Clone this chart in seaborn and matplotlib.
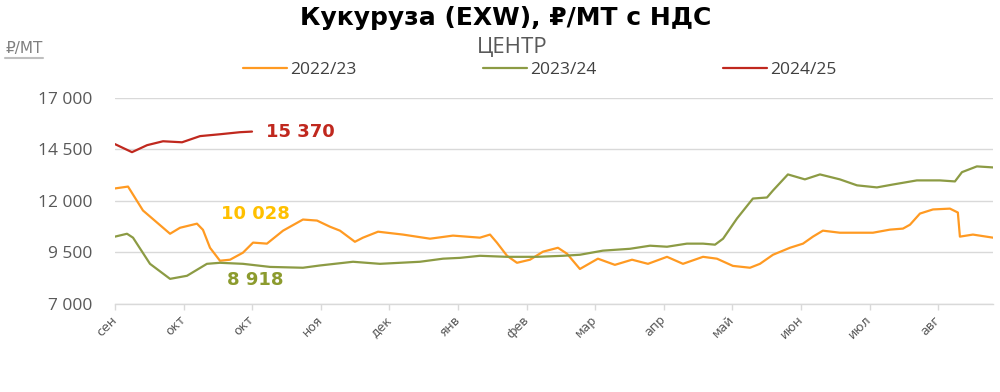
import numpy as np
import pandas as pd
import matplotlib
matplotlib.use("Agg")
import matplotlib.pyplot as plt
import seaborn as sns
from matplotlib.lines import Line2D

# ---- data (weeks from start of season, price RUB/t incl. VAT) ----
weeks_2223 = [0.0, 0.76, 1.63, 3.21, 3.79, 4.78, 5.13, 5.54, 6.12, 6.71, 7.46, 8.05, 8.86, 9.80,
              10.96, 11.78, 12.54, 13.12, 13.99, 14.46, 15.34, 16.79, 18.37, 19.71, 21.28, 21.87,
              22.27, 22.86, 23.44, 24.20, 24.96, 25.83, 26.36, 27.11, 28.16, 29.15, 30.15, 31.08,
              32.19, 33.12, 34.29, 35.10, 36.03, 37.03, 37.61, 38.37, 39.36, 40.12, 40.70, 41.28,
              42.27, 44.20, 45.19, 45.95, 46.36, 46.94, 47.70, 48.69, 49.15, 49.27, 50.03, 51.20]
price_2223 = [12610, 12700, 11540, 10410, 10700, 10900, 10600, 9730, 9100, 9150, 9490, 9980, 9930, 10560,
              11100, 11050, 10750, 10560, 10020, 10220, 10510, 10370, 10170, 10320, 10220, 10370,
              9980, 9340, 9000, 9150, 9540, 9730, 9440, 8700, 9200, 8900, 9150, 8950,
              9290, 8950, 9290, 9200, 8850, 8760, 8950, 9390, 9730, 9930, 10270, 10560,
              10460, 10460, 10610, 10660, 10850, 11390, 11590, 11630, 11440, 10270, 10370, 10220]

weeks_2324 = [0.0, 0.70, 1.05, 2.04, 3.21, 4.20, 5.36, 6.12, 7.46, 9.04, 10.96, 11.95, 13.88, 15.45,
              17.78, 19.13, 20.12, 21.28, 22.86, 24.61, 26.12, 27.11, 28.45, 30.03, 31.20, 32.19,
              33.35, 34.29, 34.99, 35.46, 36.27, 37.20, 38.02, 38.37, 39.24, 40.23, 41.11, 42.27,
              43.27, 44.43, 45.36, 46.76, 48.10, 48.98, 49.39, 50.26, 51.20]
price_2324 = [10270, 10410, 10220, 8950, 8220, 8370, 8950, 9000, 8950, 8800, 8760, 8870, 9050, 8950,
              9050, 9200, 9240, 9340, 9290, 9290, 9340, 9390, 9590, 9680, 9830, 9780,
              9930, 9930, 9880, 10170, 11150, 12120, 12170, 12510, 13290, 13050, 13290, 13050,
              12760, 12660, 12800, 13000, 13000, 12950, 13400, 13680, 13630]

weeks_2425 = [0.0, 0.99, 1.87, 2.80, 3.91, 4.96, 6.12, 7.29, 7.99]
price_2425 = [14760, 14370, 14710, 14900, 14850, 15150, 15240, 15340, 15370]

seasons = ["2022/23", "2023/24", "2024/25"]
month_labels = ["сен", "окт", "окт", "ноя", "дек", "янв", "фев", "мар", "апр", "май", "июн", "июл", "авг"]
yticks = [7000, 9500, 12000, 14500, 17000]
value_labels = {"2024/25": "15 370", "2022/23": "10 028", "2023/24": "8 918"}

df = pd.concat([
    pd.DataFrame({"week": weeks_2223, "price": price_2223, "season": seasons[0]}),
    pd.DataFrame({"week": weeks_2324, "price": price_2324, "season": seasons[1]}),
    pd.DataFrame({"week": weeks_2425, "price": price_2425, "season": seasons[2]}),
], ignore_index=True)

colors = {"2022/23": "#FF9A22", "2023/24": "#8C9B44", "2024/25": "#C0281E"}

sns.set_theme(style="white")
plt.rcParams["font.family"] = ["DejaVu Sans"]

fig = plt.figure(figsize=(10, 3.92), dpi=100)
ax = fig.add_axes([0.115, 0.2245, 0.878, 0.5255])

sns.lineplot(data=df, x="week", y="price", hue="season", palette=colors,
             hue_order=seasons, sort=False, estimator=None, lw=1.6, ax=ax, legend=True)
handles, labels = ax.get_legend_handles_labels()
ax.get_legend().remove()

ax.set_xlim(0, 51.2)
ax.set_ylim(7000, 17000)
ax.set_yticks(yticks)
ax.set_yticklabels([f"{v:,}".replace(",", " ") for v in yticks],
                   fontdict={"family": "Open Sans", "size": 12.5, "color": "#595959"})
ax.yaxis.grid(True, color="#D9D9D9", lw=1)
ax.xaxis.grid(False)
ax.tick_params(axis="y", length=0, pad=16)
for s in ["left", "right", "top"]:
    ax.spines[s].set_visible(False)
ax.spines["bottom"].set_color("#D9D9D9")
ax.spines["bottom"].set_linewidth(1)
ax.set_xlabel("")
ax.set_ylabel("")

xt = np.arange(0, 49, 4)
ax.set_xticks(xt)
ax.set_xticklabels(month_labels, rotation=45, ha="right", va="center",
                   rotation_mode="anchor", fontsize=9, color="#595959")
ax.tick_params(axis="x", length=4, width=1, color="#D9D9D9", pad=6, bottom=True)

# value labels
ax.annotate(value_labels["2024/25"], xy=(7.99, 15370), xytext=(10, 0), textcoords="offset points",
            ha="left", va="center", fontsize=13, fontweight="bold", color="#C0281E")
ax.text(8.2, 11370, value_labels["2022/23"], ha="center", va="center",
        fontsize=13, fontweight="bold", color="#FFC000")
ax.text(8.2, 8170, value_labels["2023/24"], ha="center", va="center",
        fontsize=13, fontweight="bold", color="#8C9B2E")

# titles
fig.text(0.506, 0.953, "Кукуруза (EXW), ₽/МТ с НДС", ha="center", va="center",
         fontsize=18, fontweight="bold", family=["Liberation Sans Narrow", "DejaVu Sans"], color="#000000")
fig.text(0.512, 0.878, "ЦЕНТР", ha="center", va="center", fontsize=16,
         family=["Open Sans", "DejaVu Sans"], color="#595959")
fig.text(0.005, 0.877, "₽/МТ", ha="left", va="center", fontsize=11,
         family=["Liberation Sans Narrow", "DejaVu Sans"], color="#7F7F7F")
fig.add_artist(Line2D([0.005, 0.043], [0.853, 0.853], transform=fig.transFigure,
                      color="#BFBFBF", lw=1.5))

fig.legend(handles, labels, loc="center", bbox_to_anchor=(0.54, 0.821), ncol=3, frameon=False,
           handlelength=2.5, handletextpad=0.2, columnspacing=7.3,
           prop={"family": "Open Sans", "size": 12.5})
for txt in fig.legends[0].get_texts():
    txt.set_color("#404040")

fig.savefig("out.png", dpi=100)
